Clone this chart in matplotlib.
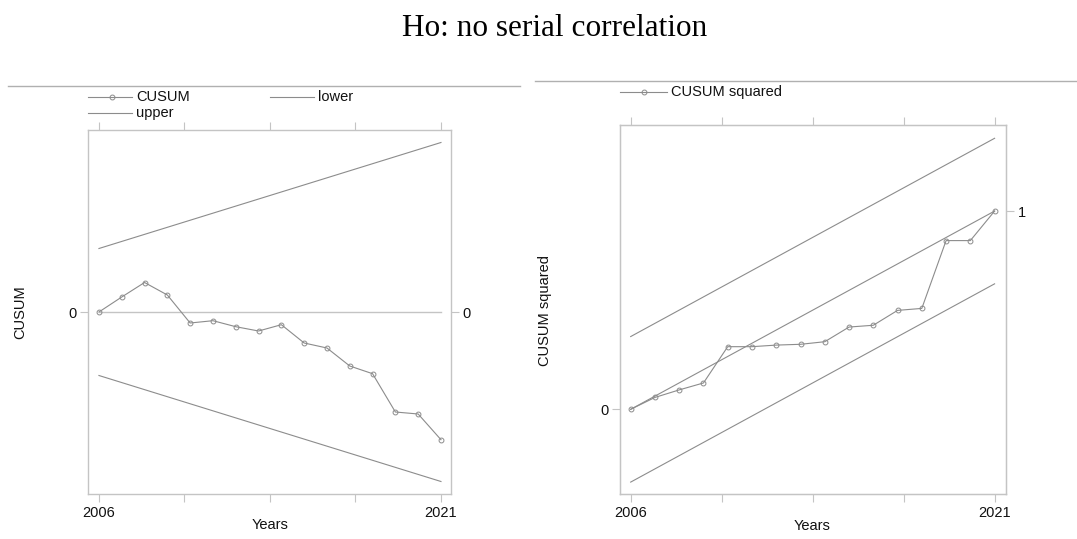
import matplotlib.pyplot as plt
from matplotlib.lines import Line2D

W, H = 1077, 539
years = list(range(2006, 2022))

# CUSUM panel (arbitrary units)
cusum = [0.0, 1.5, 2.95, 1.7, -1.1, -0.87, -1.47, -1.9, -1.27, -3.1, -3.6, -5.4, -6.17, -10.0, -10.2, -12.77]
cusumBoundStart = 6.35
cusumBoundEnd = 16.95

# CUSUM squared panel
cusumSq = [0.0, 0.06, 0.098, 0.133, 0.316, 0.316, 0.324, 0.328, 0.341, 0.415, 0.424, 0.499, 0.509, 0.851, 0.851, 1.0]
sqBand = 0.367

xTicks = [2006, 2009.75, 2013.5, 2017.25, 2021]
xTickLabels = ['2006', '', '', '', '2021']

lineCol = '#8c8c8c'
frameCol = '#c4c4c4'
textCol = '#111111'
narrow = ['Liberation Sans Narrow', 'Liberation Sans', 'DejaVu Sans']
regular = ['Liberation Sans', 'DejaVu Sans']
fs = 10.5


def px_axes(fig, x0, y0, x1, y1):
    return fig.add_axes([x0 / W, 1 - y1 / H, (x1 - x0) / W, (y1 - y0) / H])


def style_axes(ax):
    for s in ax.spines.values():
        s.set_color(frameCol)
        s.set_linewidth(1.0)
    ax.tick_params(which='both', direction='out', length=5.5, width=0.8, color=frameCol,
                   labelcolor=textCol, labelsize=fs, pad=3)
    ax.set_xticks(xTicks)
    ax.set_xticklabels(xTickLabels, family=narrow, fontsize=fs, color=textCol)
    ax.tick_params(axis='x', top=True, labeltop=False)


fig = plt.figure(figsize=(W / 100, H / 100), dpi=100)

fig.text(555 / W, 1 - 29 / H, 'Ho: no serial correlation', family=['Liberation Serif', 'DejaVu Serif'],
         fontsize=22.5, ha='center', va='center', color='black')

# thin separator lines at the top of each graph region
fig.add_artist(Line2D([8 / W, 520 / W], [1 - 86 / H, 1 - 86 / H], color='#b0b0b0', lw=1.0))
fig.add_artist(Line2D([535 / W, 1.0], [1 - 81 / H, 1 - 81 / H], color='#b0b0b0', lw=1.0))

# ---- left: CUSUM ----
ax1 = px_axes(fig, 88, 130, 451, 494)
n = len(years)
upper = [cusumBoundStart + (cusumBoundEnd - cusumBoundStart) * i / (n - 1) for i in range(n)]
lower = [-u for u in upper]
ax1.plot([years[0], years[-1]], [0, 0], color=frameCol, lw=1.0)
ax1.plot([years[0], years[-1]], [upper[0], upper[-1]], color=lineCol, lw=0.8)
ax1.plot([years[0], years[-1]], [lower[0], lower[-1]], color=lineCol, lw=0.8)
ax1.plot(years, cusum, color=lineCol, lw=0.8, marker='o', ms=3.5, mfc='none', mec=lineCol, mew=0.7)
ax1.set_xlim(2005.52, 2021.44)
ax1.set_ylim(-18.2, 18.2)
style_axes(ax1)
ax1.set_yticks([0])
ax1.set_yticklabels(['0'], family=narrow, fontsize=fs, color=textCol)
ax1.tick_params(axis='y', right=True, labelright=True)

fig.text(20 / W, 1 - 312 / H, 'CUSUM', rotation=90, family=regular, fontsize=fs,
         ha='center', va='center', color=textCol)
fig.text(270 / W, 1 - 525 / H, 'Years', family=narrow, fontsize=fs, ha='center', va='center', color=textCol)

# legend left
legY1, legY2 = 97, 113
fig.add_artist(Line2D([88 / W, 132 / W], [1 - legY1 / H] * 2, color=lineCol, lw=0.8))
fig.add_artist(Line2D([112 / W], [1 - legY1 / H], marker='o', ms=3.5, mfc='none', mec=lineCol, mew=0.7))
fig.text(136 / W, 1 - legY1 / H, 'CUSUM', family=narrow, fontsize=fs, va='center', color=textCol)
fig.add_artist(Line2D([270 / W, 314 / W], [1 - legY1 / H] * 2, color=lineCol, lw=0.8))
fig.text(318 / W, 1 - legY1 / H, 'lower', family=narrow, fontsize=fs, va='center', color=textCol)
fig.add_artist(Line2D([88 / W, 132 / W], [1 - legY2 / H] * 2, color=lineCol, lw=0.8))
fig.text(136 / W, 1 - legY2 / H, 'upper', family=narrow, fontsize=fs, va='center', color=textCol)

# ---- right: CUSUM squared ----
ax2 = px_axes(fig, 620, 125, 1006, 494)
expected = [i / (n - 1) for i in range(n)]
ax2.plot([years[0], years[-1]], [expected[0] + sqBand, expected[-1] + sqBand], color=lineCol, lw=0.8)
ax2.plot([years[0], years[-1]], [expected[0], expected[-1]], color=lineCol, lw=0.8)
ax2.plot([years[0], years[-1]], [expected[0] - sqBand, expected[-1] - sqBand], color=lineCol, lw=0.8)
ax2.plot(years, cusumSq, color=lineCol, lw=0.8, marker='o', ms=3.5, mfc='none', mec=lineCol, mew=0.7)
ax2.set_xlim(2005.56, 2021.47)
ax2.set_ylim(-0.427, 1.434)
style_axes(ax2)
ax2.set_yticks([0])
ax2.set_yticklabels(['0'], family=narrow, fontsize=fs, color=textCol)
ax2r = ax2.twinx()
ax2r.set_ylim(ax2.get_ylim())
ax2r.set_yticks([1])
ax2r.set_yticklabels(['1'], family=narrow, fontsize=fs, color=textCol)
ax2r.tick_params(direction='out', length=5.5, width=0.8, color=frameCol, pad=3)
for s in ax2r.spines.values():
    s.set_color(frameCol)

fig.text(545 / W, 1 - 310 / H, 'CUSUM squared', rotation=90, family=regular, fontsize=fs,
         ha='center', va='center', color=textCol)
fig.text(812 / W, 1 - 526 / H, 'Years', family=narrow, fontsize=fs, ha='center', va='center', color=textCol)

legY3 = 92
fig.add_artist(Line2D([620 / W, 667 / W], [1 - legY3 / H] * 2, color=lineCol, lw=0.8))
fig.add_artist(Line2D([644 / W], [1 - legY3 / H], marker='o', ms=3.5, mfc='none', mec=lineCol, mew=0.7))
fig.text(671 / W, 1 - legY3 / H, 'CUSUM squared', family=narrow, fontsize=fs, va='center', color=textCol)

fig.savefig('out.png', dpi=100)
